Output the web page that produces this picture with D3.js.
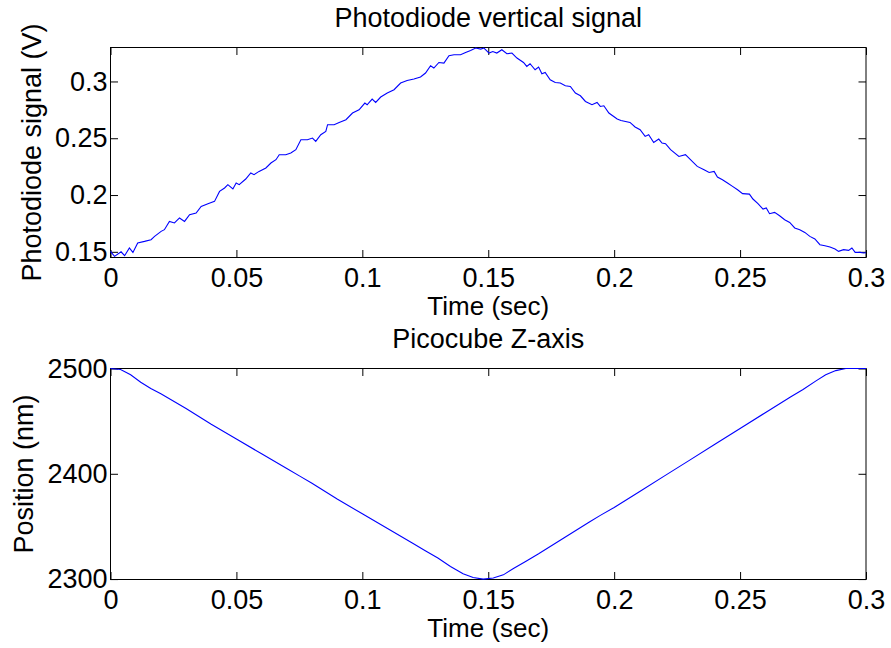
<!DOCTYPE html>
<html>
<head>
<meta charset="utf-8">
<script src="https://cdn.jsdelivr.net/npm/d3@7"></script>
<style>
  html, body { margin: 0; padding: 0; background: #fff; }
  svg { display: block; }
  text { font-family: Arial, "Liberation Sans", Helvetica, sans-serif; fill: #000; }
</style>
</head>
<body>
<svg id="chart" width="891" height="648"></svg>
<script>
// [time (sec), signal (V)]
const photodiodeSamples = [
  [0, .1504], [.0016, .146], [.0042, .150], [.0056, .1466], [.0075, .1534], [.0089, .1495],
  [.0108, .1578], [.0135, .1592], [.0161, .1607], [.0175, .1636], [.0201, .1680], [.0214, .1695],
  [.0234, .1768], [.0254, .1754], [.0274, .1798], [.0294, .1768], [.0314, .1827], [.034, .1842],
  [.036, .1900], [.0387, .1924], [.0413, .1944], [.0433, .2032], [.0453, .2062], [.0466, .2091],
  [.0486, .2053], [.0499, .2106], [.0511, .2091], [.0537, .2141], [.0557, .2194], [.057, .2179],
  [.059, .2208], [.0617, .2238], [.0637, .2282], [.0657, .2311], [.067, .2355], [.0696, .2355],
  [.0716, .2370], [.0736, .2399], [.0756, .2487], [.0782, .2487], [.0802, .2502], [.0815, .2472],
  [.0835, .2531], [.0855, .2560], [.0862, .2619], [.0888, .2619], [.0908, .2639], [.0935, .2663],
  [.0961, .2722], [.0987, .2751], [.1010, .2810], [.1019, .2795], [.1039, .2845], [.1053, .2815],
  [.1073, .2863], [.1099, .2898], [.1126, .2927], [.1152, .2986], [.1178, .3009], [.1205, .3021],
  [.1231, .3039], [.1251, .3074], [.1271, .3138], [.1284, .3118], [.1304, .3167], [.1324, .3162],
  [.1344, .3226], [.1364, .3235], [.139, .3235], [.141, .3255], [.143, .3273], [.145, .3294],
  [.147, .3285], [.1483, .3294], [.1503, .3250], [.1518, .3264], [.1534, .3250], [.1554, .3279],
  [.1574, .3244], [.1594, .3250], [.1614, .3206], [.164, .3167], [.1653, .3132], [.1666, .3156],
  [.1686, .3103], [.17, .3127], [.1713, .3068], [.1726, .3079], [.1746, .3015], [.1766, .2991],
  [.1786, .2986], [.1806, .2962], [.1826, .2956], [.1846, .2898], [.1866, .2874], [.1886, .2824],
  [.1912, .2795], [.1932, .2815], [.1945, .2780], [.1959, .2786], [.1979, .2722], [.2012, .2669],
  [.2027, .2657], [.2063, .2639], [.2083, .2599], [.2103, .2575], [.2123, .2516], [.2137, .2531],
  [.2157, .2463], [.2177, .2493], [.219, .2458], [.2204, .2452], [.2224, .2399], [.2257, .2340],
  [.2283, .2355], [.2303, .2311], [.233, .2252], [.2357, .2223], [.2377, .2199], [.2397, .2208],
  [.241, .2159], [.243, .2135], [.245, .2106], [.247, .2076], [.249, .2047], [.251, .2012],
  [.2537, .2008], [.2551, .1965], [.2571, .1924], [.2591, .1877], [.2604, .1886], [.2617, .1836],
  [.2637, .1847], [.2657, .1818], [.2677, .1783], [.2697, .1759], [.2717, .1710], [.2737, .1695],
  [.2757, .1671], [.2777, .1636], [.2797, .1613], [.2817, .1563], [.2837, .1554], [.2857, .1543],
  [.2877, .1525], [.2891, .1504], [.2911, .1519], [.2931, .1513], [.2944, .1534], [.2957, .1495],
  [.2977, .1495], [.2991, .1490], [.3, .1492]
];

// [time (sec), position (nm)]
const zAxisSamples = [
  [0, 2500], [.004, 2499], [.008, 2494], [.012, 2487], [.016, 2481], [.02, 2476],
  [.03, 2462], [.04, 2447], [.05, 2433], [.06, 2419], [.07, 2405], [.075, 2398],
  [.08, 2391], [.09, 2376], [.1, 2362], [.11, 2348], [.12, 2334], [.125, 2327],
  [.13, 2320], [.135, 2312], [.14, 2305], [.144, 2301.5], [.148, 2300], [.152, 2301],
  [.156, 2304], [.16, 2310], [.165, 2317], [.17, 2324], [.18, 2339], [.19, 2354],
  [.1945, 2360.5], [.2, 2368], [.21, 2383], [.22, 2398], [.23, 2413], [.24, 2428],
  [.25, 2443], [.26, 2458], [.27, 2473], [.275, 2480], [.28, 2488], [.284, 2494],
  [.288, 2498], [.292, 2500], [.296, 2500], [.3, 2500]
];

const timeTicks = [0, 0.05, 0.1, 0.15, 0.2, 0.25, 0.3];
const signalTicks = [0.15, 0.2, 0.25, 0.3];
const positionTicks = [2300, 2400, 2500];

const svg = d3.select("#chart");
const left = 110.5, right = 866;
const fontSize = 27;
const tickLen = 7.5;

function drawPanel(opt) {
  const x = d3.scaleLinear().domain([0, 0.3]).range([left, right]);
  const y = d3.scaleLinear().domain(opt.yDomain).range([opt.bottom, opt.top]);
  const g = svg.append("g");

  // ticks all around the box, pointing inwards
  g.append("g")
    .attr("transform", `translate(0,${opt.bottom})`)
    .call(d3.axisBottom(x).tickValues(timeTicks).tickSizeInner(-tickLen).tickSizeOuter(0)
      .tickPadding(29 - 0.71 * fontSize).tickFormat(d3.format("")));
  g.append("g")
    .attr("transform", `translate(0,${opt.top})`)
    .call(d3.axisTop(x).tickValues(timeTicks).tickSizeInner(-tickLen).tickSizeOuter(0).tickFormat(""));
  g.append("g")
    .attr("transform", `translate(${left},0)`)
    .call(d3.axisLeft(y).tickValues(opt.yTicks).tickSizeInner(-tickLen).tickSizeOuter(0)
      .tickPadding(3).tickFormat(d3.format("")));
  g.append("g")
    .attr("transform", `translate(${right},0)`)
    .call(d3.axisRight(y).tickValues(opt.yTicks).tickSizeInner(-tickLen).tickSizeOuter(0).tickFormat(""));

  g.selectAll(".domain").remove();
  g.selectAll(".tick line").attr("stroke", "#000").attr("stroke-width", 1);
  g.selectAll(".tick text").attr("font-size", fontSize).attr("font-family", null).attr("fill", "#000");

  g.append("rect")
    .attr("x", left).attr("y", opt.top)
    .attr("width", right - left).attr("height", opt.bottom - opt.top)
    .attr("fill", "none").attr("stroke", "#000").attr("stroke-width", 1);

  const line = d3.line().x(d => x(d[0])).y(d => y(d[1]));
  g.append("path")
    .datum(opt.data)
    .attr("d", line)
    .attr("fill", "none")
    .attr("stroke", "#0000ff")
    .attr("stroke-width", 1.1);

  const cx = (left + right) / 2;
  g.append("text")
    .attr("x", cx).attr("y", opt.top - 21)
    .attr("text-anchor", "middle").attr("font-size", fontSize)
    .text(opt.title);
  g.append("text")
    .attr("x", cx).attr("y", opt.bottom + 57)
    .attr("text-anchor", "middle").attr("font-size", 26)
    .text("Time (sec)");
  g.append("text")
    .attr("transform", `translate(${opt.ylabelX},${(opt.top + opt.bottom) / 2}) rotate(-90)`)
    .attr("text-anchor", "middle").attr("font-size", fontSize)
    .text(opt.ylabel);
}

drawPanel({
  top: 47.5, bottom: 257.5,
  yDomain: [0.145, 0.3299], yTicks: signalTicks,
  data: photodiodeSamples,
  title: "Photodiode vertical signal",
  ylabel: "Photodiode signal (V)", ylabelX: 41
});

drawPanel({
  top: 368.5, bottom: 579.5,
  yDomain: [2299.6, 2500], yTicks: positionTicks,
  data: zAxisSamples,
  title: "Picocube Z-axis",
  ylabel: "Position (nm)", ylabelX: 33
});
</script>
</body>
</html>
